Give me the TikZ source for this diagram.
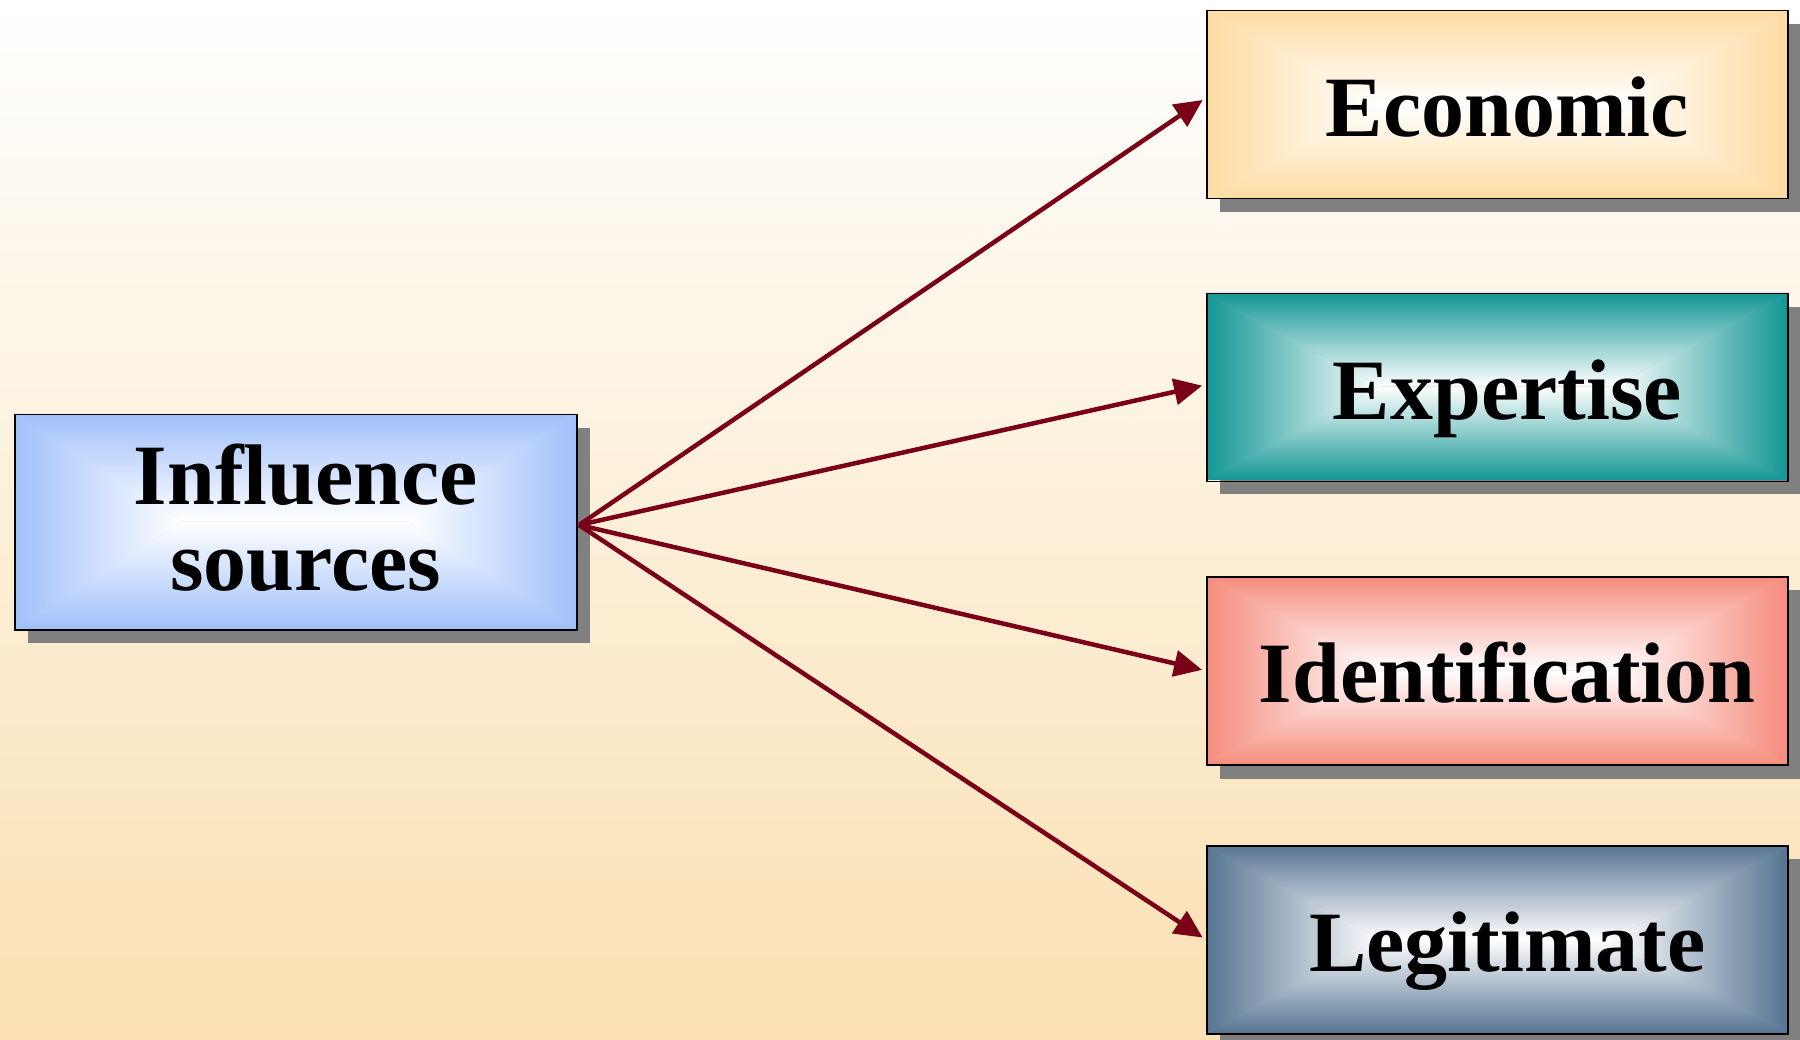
\documentclass[tikz,border=0pt]{standalone}
\usepackage{fontspec}
\setmainfont{Liberation Serif}
\usetikzlibrary{arrows.meta,calc}
\definecolor{bgpeach}{RGB}{250,224,178}
\definecolor{cinfl}{RGB}{160,192,250}
\definecolor{cecon}{RGB}{254,219,162}
\definecolor{cexpe}{RGB}{18,150,148}
\definecolor{cident}{RGB}{245,140,124}
\definecolor{clegit}{RGB}{86,116,146}
\definecolor{arrowred}{RGB}{122,0,24}
\definecolor{shadowgray}{RGB}{128,128,128}
% #1 x1, #2 y1, #3 x2, #4 y2, #5 colour
\newcommand\gradpanel[5]{%
  \pgfmathsetmacro\gpym{(#2+#4)/2}%
  \pgfmathsetmacro\gpcl{#1+0.3*(#3-#1)}%
  \pgfmathsetmacro\gpcr{#3-0.3*(#3-#1)}%
  \fill[shadowgray] (#1+14,#2+14) rectangle (#3+14,#4+14);
  \fill[#5!70!white] (#1,#2) rectangle (#3,#4);
  \shade[top color=#5, bottom color=white] (#1,#2) -- (#3,#2) -- (\gpcr,\gpym) -- (\gpcl,\gpym) -- cycle;
  \shade[top color=white, bottom color=#5] (#1,#4) -- (#3,#4) -- (\gpcr,\gpym) -- (\gpcl,\gpym) -- cycle;
  \shade[left color=#5, right color=white] (#1,#2) -- (\gpcl,\gpym) -- (#1,#4) -- cycle;
  \shade[left color=white, right color=#5] (#3,#2) -- (\gpcr,\gpym) -- (#3,#4) -- cycle;
}
\tikzset{
  panel/.style={draw=black, line width=1.5pt, inner sep=0pt, anchor=north west,
    font=\fontsize{86}{86}\selectfont\bfseries, text=black},
  onebox/.style={panel, minimum width=581pt, minimum height=188pt, text height=63pt, text depth=0pt},
  conn/.style={draw=arrowred, line width=4.5pt, shorten >=4pt,
    -{Triangle[length=28pt,width=26pt]}}
}
\begin{document}
\begin{tikzpicture}[x=1pt,y=-1pt]
\useasboundingbox (0,0) rectangle (1800,1040);
\clip (0,0) rectangle (1800,1040);
\shade[top color=white, bottom color=bgpeach] (0,0) rectangle (1800,1040);

\gradpanel{14}{414}{576}{629}{cinfl}
\gradpanel{1206}{10}{1787}{198}{cecon}
\gradpanel{1206}{293}{1787}{480}{cexpe}
\gradpanel{1206}{576}{1787}{765}{cident}
\gradpanel{1206}{845}{1787}{1033}{clegit}

\node[panel, minimum width=562pt, minimum height=215pt, align=center] (infl) at (14,414)
  {\hspace*{20pt}Influence\\\hspace*{20pt}sources\rule[-10pt]{0pt}{10pt}};
\node[onebox] (econ) at (1206,10) {\hspace*{20pt}Economic};
\node[onebox] (expe) at (1206,293) {\hspace*{20pt}Expertise};
\node[onebox] (ident) at (1206,576) {\hspace*{20pt}Identification};
\node[onebox] (legit) at (1206,845) {\hspace*{20pt}Legitimate};

\coordinate (hub) at (579,525);
\draw[conn] (hub) -- ($(econ.west)+(0,-7)$);
\draw[conn] (hub) -- ($(expe.west)+(0,-3)$);
\draw[conn] (hub) -- (ident.west);
\draw[conn] (hub) -- (legit.west);
\end{tikzpicture}
\end{document}
